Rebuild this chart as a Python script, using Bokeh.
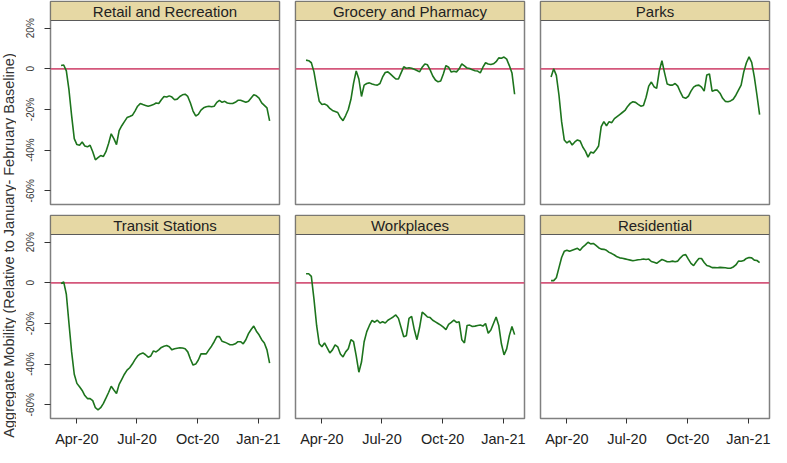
import numpy as np
import pandas as pd
from bokeh.plotting import figure
from bokeh.layouts import row, column
from bokeh.models import Range1d, Span, FixedTicker, CustomJSTickFormatter, ColumnDataSource
from bokeh.core.properties import value
from bokeh.embed import file_html
from bokeh.resources import INLINE

# ---------------- data ----------------
dates = pd.date_range("2020-03-08", periods=80, freq="4D")

categories = ["Retail and Recreation", "Grocery and Pharmacy", "Parks",
              "Transit Stations", "Workplaces", "Residential"]

retail = [1.6, 1.9, -1.0, -10.4, -23.0, -34.4, -37.3, -37.6, -36.0, -38.0,
          -38.4, -37.6, -40.8, -44.8, -43.7, -42.7, -43.2, -40.8, -36.8, -32.0,
          -34.4, -37.3, -30.4, -28.0, -26.0, -24.0, -23.5, -22.9, -20.8, -18.4,
          -17.1, -17.6, -18.0, -18.4, -18.0, -17.6, -16.8, -17.1, -15.2, -13.6,
          -13.9, -13.3, -13.9, -15.2, -14.9, -13.6, -12.8, -12.5, -13.6, -16.8,
          -20.8, -23.2, -22.4, -20.3, -19.2, -18.7, -18.4, -18.7, -18.4, -16.5,
          -15.5, -16.5, -16.0, -16.8, -17.1, -17.1, -16.5, -15.5, -15.5, -16.0,
          -16.5, -16.0, -14.4, -12.8, -13.3, -14.4, -16.8, -18.0, -19.2, -25.6]

grocery = [4.3, 4.0, 3.0, -1.5, -9.0, -16.0, -17.6, -17.3, -18.0, -19.5,
           -20.5, -21.0, -21.5, -24.0, -25.5, -23.0, -20.0, -15.0, -7.0, -1.0,
           -5.0, -13.6, -8.0, -7.2, -6.9, -7.5, -7.8, -8.0, -7.2, -4.0,
           -1.8, -1.5, -2.6, -3.8, -5.0, -5.0, -2.0, 1.0, 0.3, 0.5,
           0.3, -0.2, -0.8, -1.5, 0.8, 2.4, 2.0, -0.5, -3.5, -5.5,
           -6.4, -6.0, -2.5, 1.6, 0.8, -1.6, -1.2, -1.5, 0.0, 2.4,
           1.5, 0.4, 0.2, -0.5, -0.9, -1.1, -2.0, 0.8, 3.0, 2.4,
           2.1, 2.5, 3.5, 5.4, 5.2, 5.8, 4.8, 1.6, -2.0, -12.5]

parks = [-4.0, 0.0, -3.2, -13.0, -26.0, -35.0, -36.5, -35.5, -37.5, -36.0,
         -35.0, -35.5, -38.5, -40.5, -43.5, -41.0, -41.5, -40.0, -38.0, -28.5,
         -26.0, -28.0, -26.0, -26.5, -24.5, -23.5, -22.5, -21.5, -20.5, -18.5,
         -17.0, -16.2, -16.5, -17.5, -18.4, -18.0, -14.0, -8.5, -6.5, -8.8,
         -9.6, -1.0, 4.0, -2.0, -7.5, -8.0, -8.0, -7.2, -8.5, -11.5,
         -14.0, -14.5, -13.5, -11.0, -9.0, -8.2, -8.0, -9.0, -11.0, -3.0,
         -2.5, -11.0, -10.5, -10.5, -12.0, -14.5, -16.0, -16.2, -15.8, -15.0,
         -13.0, -10.5, -8.0, -1.5, 3.0, 5.9, 3.2, -4.0, -13.0, -22.5]

transit = [-0.3, 0.5, -5.6, -20.0, -34.0, -45.0, -49.5, -51.2, -53.0, -55.5,
           -57.0, -57.0, -58.0, -61.5, -62.5, -61.5, -59.5, -56.8, -54.0, -50.9,
           -52.8, -54.5, -50.0, -47.5, -45.0, -43.0, -41.8, -40.0, -37.8, -36.0,
           -35.0, -34.5, -35.4, -36.6, -36.0, -33.5, -34.0, -33.0, -31.8, -31.2,
           -30.9, -31.5, -33.0, -32.5, -32.2, -32.0, -32.1, -32.5, -34.0, -37.5,
           -40.5, -40.0, -38.0, -35.0, -35.0, -35.0, -33.0, -31.2, -29.0, -26.5,
           -26.5, -28.8, -29.2, -29.8, -30.5, -30.5, -30.0, -29.0, -29.0, -30.0,
           -28.0, -25.0, -23.0, -21.3, -23.8, -25.6, -28.0, -29.6, -33.0, -39.5]

workplaces = [4.5, 4.5, 3.2, -8.0, -21.0, -30.0, -31.5, -29.6, -32.0, -34.5,
              -33.0, -30.5, -31.5, -35.0, -36.5, -34.0, -32.5, -28.0, -29.0, -36.0,
              -44.0, -39.0, -29.0, -24.0, -21.0, -18.5, -19.4, -18.4, -19.8, -19.2,
              -19.8, -18.4, -17.6, -16.8, -15.8, -17.5, -22.0, -26.5, -26.0, -17.5,
              -16.5, -23.0, -28.0, -22.0, -14.4, -15.5, -16.8, -17.1, -18.4, -19.2,
              -20.0, -20.8, -21.8, -23.0, -20.5, -19.5, -18.4, -19.5, -19.2, -28.0,
              -29.6, -21.0, -20.8, -21.5, -21.3, -21.0, -20.8, -21.3, -20.0, -24.8,
              -23.2, -20.0, -16.8, -21.0, -30.0, -35.5, -32.5, -26.0, -21.5, -25.5]

residential = [1.1, 1.1, 2.5, 7.5, 12.5, 15.5, 16.0, 15.5, 16.0, 16.5,
               17.0, 16.0, 17.6, 18.7, 20.0, 19.2, 19.4, 18.4, 17.3, 16.6,
               16.5, 16.0, 15.0, 14.4, 13.7, 12.8, 12.3, 12.1, 11.8, 11.5,
               11.2, 10.9, 11.1, 11.4, 11.5, 11.7, 11.5, 11.7, 10.5, 10.1,
               9.6, 10.6, 11.5, 11.0, 10.4, 10.4, 10.7, 10.4, 10.7, 12.3,
               13.6, 13.9, 11.7, 9.6, 8.5, 10.4, 12.0, 12.0, 10.0, 8.5,
               8.2, 7.5, 7.5, 7.4, 7.6, 7.5, 7.4, 7.2, 7.2, 7.8,
               8.8, 10.7, 10.6, 11.0, 12.0, 12.5, 12.3, 11.2, 11.0, 10.0]

series = [retail, grocery, parks, transit, workplaces, residential]

y_ticks = [-60, -40, -20, 0, 20]
y_tick_labels = ["-60%", "-40%", "-20%", "0", "20%"]
x_tick_dates = ["2020-04-01", "2020-07-01", "2020-10-01", "2021-01-01"]
x_tick_labels = ["Apr-20", "Jul-20", "Oct-20", "Jan-21"]
y_title = "Aggregate Mobility (Relative to January- February Baseline)"

# ---------------- style / layout ----------------
FONT = "Liberation Sans"
X_START = pd.Timestamp("2020-02-21")
X_END = pd.Timestamp("2021-02-02")
Y_BOTTOM, Y_TOP = -66.8, 23.8
STRIP = 9.36
FW, FH = 229, 203
x_tick_ms = [float(pd.Timestamp(d).value // 10**6) for d in x_tick_dates]

LINE_COLOR = "#1d741d"
ZERO_COLOR = "#d4577b"
STRIP_FILL = "#e6d8a4"

LOOKUP = "const i = tvals.indexOf(tick); return i >= 0 ? tlabels[i] : '';"


def panel(idx):
    r, c = divmod(idx, 3)
    p = figure(
        x_axis_type="datetime",
        frame_width=FW, frame_height=FH,
        x_range=Range1d(X_START, X_END),
        y_range=Range1d(Y_BOTTOM, Y_TOP + STRIP),
        min_border_left=34 if c == 0 else 8,
        min_border_right=2 if c == 2 else 8,
        min_border_top=1 if r == 0 else 6,
        min_border_bottom=5 if r == 0 else 29,
        x_axis_location="below" if r == 1 else None,
        y_axis_location="left" if c == 0 else None,
        toolbar_location=None, output_backend="svg",
    )
    p.xgrid.visible = False
    p.ygrid.visible = False
    p.background_fill_color = "white"
    p.border_fill_color = "white"
    p.outline_line_color = "#808080"
    p.outline_line_width = 1.5

    p.add_layout(Span(location=0, dimension="width", line_color=ZERO_COLOR,
                      line_width=1.6, level="underlay"))

    src = ColumnDataSource(dict(date=dates, v=series[idx]))
    p.line("date", "v", source=src, line_color=LINE_COLOR, line_width=1.6)

    # strip header
    p.quad(left=[X_START], right=[X_END], bottom=[Y_TOP], top=[Y_TOP + STRIP],
           fill_color=STRIP_FILL, line_color="#5a5a5a", line_width=1.2)
    p.text(x=[X_START + (X_END - X_START) / 2], y=[Y_TOP + STRIP / 2],
           text=[categories[idx]], text_align="center", text_baseline="middle",
           text_font=value(FONT), text_font_size="15px", text_color="#222222")

    if c == 0:
        ax = p.yaxis[0]
        ax.ticker = FixedTicker(ticks=y_ticks)
        ax.formatter = CustomJSTickFormatter(
            args=dict(tvals=y_ticks, tlabels=y_tick_labels), code=LOOKUP)
        ax.major_label_orientation = "vertical"
        ax.axis_line_color = None
        ax.major_tick_out = 6
        ax.major_tick_in = 0
        ax.minor_tick_line_color = None
        ax.major_tick_line_color = "#333333"
        ax.major_label_text_font = FONT
        ax.major_label_text_font_size = "10px"
        ax.major_label_text_color = "#333333"
        ax.major_label_standoff = 8
    if r == 1:
        ax = p.xaxis[0]
        ax.ticker = FixedTicker(ticks=x_tick_ms)
        ax.formatter = CustomJSTickFormatter(
            args=dict(tvals=x_tick_ms, tlabels=x_tick_labels), code=LOOKUP)
        ax.axis_line_color = None
        ax.major_tick_out = 5
        ax.major_tick_in = 0
        ax.minor_tick_line_color = None
        ax.major_tick_line_color = "#333333"
        ax.major_label_text_font = FONT
        ax.major_label_text_font_size = "14.5px"
        ax.major_label_text_color = "#222222"
        ax.major_label_standoff = 7
    return p


panels = [panel(i) for i in range(6)]

lab = figure(width=16, height=447, x_range=Range1d(0, 1), y_range=Range1d(0, 1),
             min_border=0, x_axis_location=None, y_axis_location=None,
             toolbar_location=None, output_backend="svg")
lab.xgrid.visible = False
lab.ygrid.visible = False
lab.outline_line_color = None
lab.text(x=[0.5], y=[0.452], text=[y_title], angle=np.pi / 2,
         text_align="center", text_baseline="middle",
         text_font=value(FONT), text_font_size="14.5px", text_color="#333333")

layout = row(lab, column(row(*panels[:3]), row(*panels[3:])))

open("out.html", "w").write(file_html(layout, INLINE))
